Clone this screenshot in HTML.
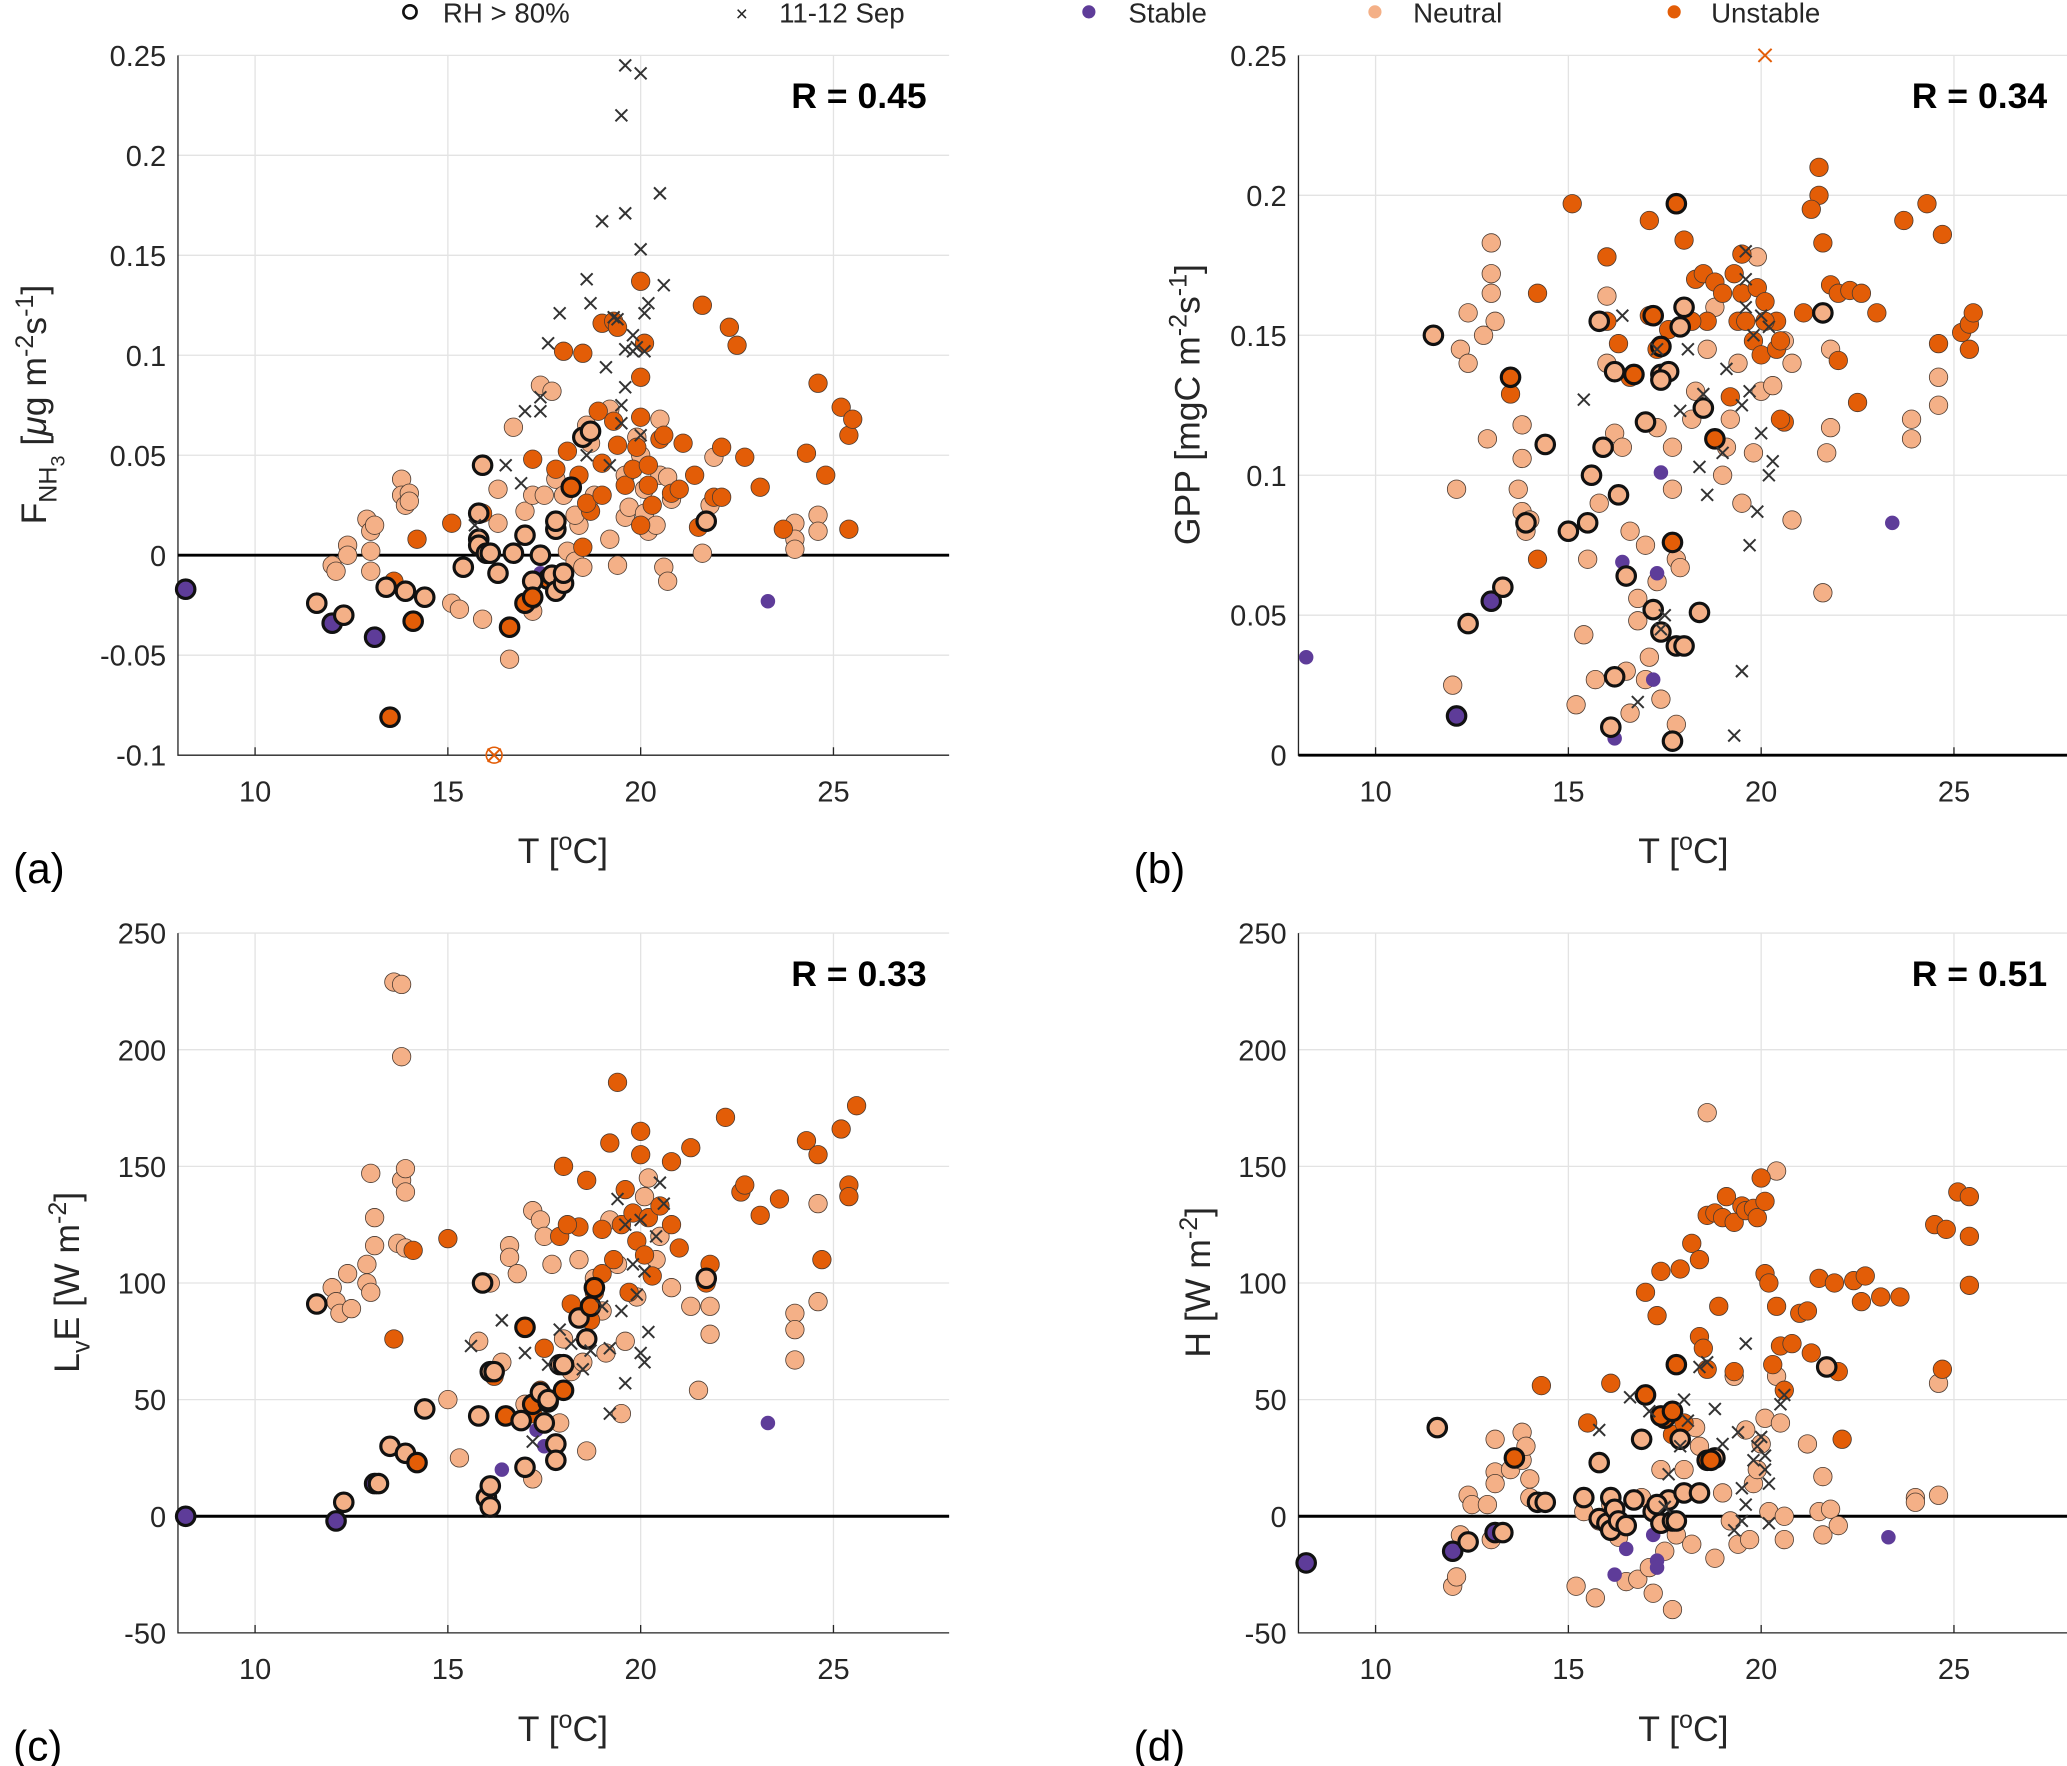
<!DOCTYPE html>
<html><head><meta charset="utf-8"><style>
html,body{margin:0;padding:0;background:#fff;}
svg{display:block;font-family:"Liberation Sans",Arial,sans-serif;}
</style></head><body>
<svg id="fig" width="2067" height="1766" viewBox="0 0 1568 1340" preserveAspectRatio="none" xmlns="http://www.w3.org/2000/svg">
<g font-size="21" fill="#262626">
 <circle cx="311" cy="9" r="5" fill="none" stroke="#111" stroke-width="2"/>
 <text x="336" y="17">RH &gt; 80%</text>
 <text x="558" y="16" font-size="16">×</text>
 <text x="591" y="17">11-12 Sep</text>
 <circle cx="826" cy="9" r="5" fill="#5e3c99"/>
 <text x="856" y="17">Stable</text>
 <circle cx="1043" cy="9" r="5" fill="#f4b087"/>
 <text x="1072" y="17">Neutral</text>
 <circle cx="1270" cy="9" r="5" fill="#e35d07"/>
 <text x="1298" y="17">Unstable</text>
</g>
</svg>
<script>
// ---------- Panel (a) F_NH3 ----------
const aStable=[[8.2,-0.017],[12,-0.034],[13.1,-0.041],[23.3,-0.023],[16.3,-0.008],[17.4,-0.009]];
const aNeutral=[[12,-0.005],[12.1,-0.008],[12.4,0.005],[12.4,0],[12.9,0.018],[13,0.012],[13.1,0.015],[13,0.002],[13,-0.008],[13.8,0.038],[13.8,0.03],[13.9,0.025],[14,0.031],[14,0.027],[15.1,-0.024],[15.3,-0.027],[15.9,-0.032],[16.3,0.033],[16.3,0.016],[16.6,-0.052],[16.7,0.064],[17,0.022],[17.2,0.03],[17.2,-0.028],[17.4,0.085],[17.7,0.082],[17.5,0.03],[17.8,0.038],[18,0.03],[18.1,0.002],[18.3,-0.003],[18.4,0.015],[18.6,0.065],[18.7,0.056],[18.8,0.03],[19.2,0.073],[19.2,0.008],[19.4,-0.005],[19.6,0.04],[19.6,0.019],[19.7,0.024],[19.9,0.059],[20,0.05],[20.1,0.033],[20.1,0.021],[20.2,0.012],[20.4,0.015],[20.5,0.068],[20.5,0.04],[20.7,0.039],[20.6,-0.006],[20.7,-0.013],[20.8,0.028],[21.6,0.001],[21.9,0.049],[21.8,0.025],[24,0.016],[24,0.008],[24,0.003],[24.6,0.02],[24.6,0.012],[18.3,0.02],[18.5,-0.006]];
const aUnstable=[[14.2,0.008],[13.6,-0.013],[15.1,0.016],[17.2,0.048],[17.8,0.043],[18.1,0.052],[18,0.102],[18.5,0.101],[18.5,0.004],[18.7,0.022],[18.9,0.072],[19,0.046],[19,0.116],[19.3,0.117],[19.4,0.114],[19.3,0.067],[19.4,0.055],[19.6,0.035],[19.8,0.043],[19.9,0.054],[20,0.137],[20,0.089],[20.1,0.106],[20,0.069],[20.2,0.045],[20.2,0.035],[20.3,0.025],[20,0.015],[20.5,0.058],[20.6,0.06],[20.8,0.031],[21.1,0.056],[21,0.033],[21.4,0.04],[21.5,0.014],[21.6,0.125],[21.9,0.029],[22.1,0.054],[22.1,0.029],[22.3,0.114],[22.5,0.105],[22.7,0.049],[23.1,0.034],[23.7,0.013],[24.3,0.051],[24.6,0.086],[24.8,0.04],[25.2,0.074],[25.4,0.06],[25.5,0.068],[25.4,0.013],[18.4,0.04],[18.6,0.026],[19,0.03],[17.8,-0.01],[17.2,-0.022],[15.9,0.021]];
const aRH=[[13.5,-0.081,2],[14.1,-0.033,2],[16.6,-0.036,2],[17,-0.024,2],[18.2,0.034,2],[17.6,-0.012,2],[8.2,-0.017,0],[12,-0.034,0],[13.1,-0.041,0],[11.6,-0.024,1],[12.3,-0.03,1],[13.4,-0.016,1],[13.9,-0.018,1],[14.4,-0.021,1],[15.4,-0.006,1],[15.9,0.045,1],[15.8,0.021,1],[15.8,0.008,1],[15.8,0.005,1],[16,0.001,1],[16.1,0.001,1],[16.3,-0.009,1],[16.7,0.001,1],[17,0.01,1],[17.4,0,1],[17.2,-0.013,1],[17.7,-0.01,1],[17.8,-0.018,1],[17.8,0.013,1],[17.8,0.017,1],[18,-0.014,1],[18,-0.009,1],[18.5,0.059,1],[18.7,0.062,1],[21.7,0.017,1],[17.2,-0.021,2]];
const aSep=[[19.6,0.245],[20,0.241],[19.5,0.22],[20.5,0.181],[19.6,0.171],[19,0.167],[20,0.153],[18.6,0.138],[20.6,0.135],[18.7,0.126],[20.2,0.126],[17.9,0.121],[20.1,0.121],[19.3,0.119],[19.4,0.118],[19.8,0.11],[19.9,0.104],[19.6,0.103],[19.8,0.102],[20.1,0.102],[17.6,0.106],[19.1,0.094],[19.6,0.084],[17.4,0.079],[17,0.072],[17.4,0.072],[19.5,0.075],[19.5,0.066],[18.6,0.05],[19.2,0.045],[16.5,0.045],[16.9,0.036],[15.7,0.015],[20,0.06]];
const aOutlier=[[16.2,-0.1]];
// ---------- Panel (b) GPP ----------
const bStable=[[8.2,0.035],[16.2,0.006],[17.3,0.065],[17.2,0.027],[16.4,0.069],[17.4,0.101],[23.4,0.083]];
const bNeutral=[[12,0.025],[12.1,0.095],[12.2,0.145],[12.4,0.158],[12.4,0.14],[12.8,0.15],[12.9,0.113],[13,0.183],[13,0.172],[13,0.165],[13.1,0.155],[13.7,0.095],[13.8,0.106],[13.8,0.118],[13.8,0.087],[13.9,0.08],[14,0.084],[15.2,0.018],[15.4,0.043],[15.5,0.07],[15.7,0.027],[15.8,0.09],[16,0.14],[16,0.164],[16.2,0.115],[16.4,0.11],[16.5,0.03],[16.6,0.015],[16.6,0.08],[16.8,0.048],[16.8,0.056],[17,0.027],[17,0.075],[17.1,0.035],[17.3,0.117],[17.3,0.062],[17.4,0.02],[17.7,0.095],[17.7,0.11],[17.8,0.011],[17.8,0.07],[17.9,0.067],[18.2,0.12],[18.3,0.13],[18.6,0.145],[18.8,0.16],[19,0.1],[19.1,0.11],[19.2,0.12],[19.4,0.14],[19.5,0.09],[19.8,0.108],[19.9,0.178],[20,0.13],[20.3,0.132],[20.6,0.148],[20.8,0.084],[21.6,0.058],[21.7,0.108],[21.8,0.117],[21.8,0.145],[23.9,0.12],[23.9,0.113],[24.6,0.135],[24.6,0.125],[20.8,0.14]];
const bUnstable=[[15.1,0.197],[16,0.178],[17.1,0.191],[18,0.184],[18.3,0.17],[18.5,0.172],[18.8,0.169],[19,0.165],[19.3,0.172],[19.5,0.179],[19.5,0.165],[19.9,0.167],[20.1,0.162],[20.4,0.155],[19.4,0.155],[19.6,0.155],[19.8,0.148],[20,0.143],[20.1,0.155],[20.4,0.145],[20.5,0.148],[20.6,0.119],[20.5,0.12],[18.6,0.155],[18.2,0.155],[17.6,0.152],[17.3,0.145],[17.1,0.157],[16.6,0.135],[16.3,0.147],[16,0.155],[14.2,0.165],[13.5,0.129],[14.2,0.07],[21.1,0.158],[21.5,0.21],[21.5,0.2],[21.6,0.183],[21.3,0.195],[21.8,0.168],[22,0.165],[22.3,0.166],[22.6,0.165],[23,0.158],[22,0.141],[22.5,0.126],[23.7,0.191],[24.3,0.197],[24.7,0.186],[24.6,0.147],[25.2,0.151],[25.4,0.154],[25.5,0.158],[25.4,0.145],[19.2,0.128]];
const bRH=[[12.1,0.014,0],[13,0.055,0],[11.5,0.15,1],[12.4,0.047,1],[13.3,0.06,1],[13.5,0.135,2],[13.9,0.083,1],[14.4,0.111,1],[15,0.08,1],[15.5,0.083,1],[15.6,0.1,1],[15.8,0.155,1],[15.9,0.11,1],[16.1,0.01,1],[16.2,0.028,1],[16.3,0.093,1],[16.2,0.137,1],[16.5,0.064,1],[16.7,0.136,2],[17,0.119,1],[17.2,0.052,1],[17.2,0.157,2],[17.4,0.044,1],[17.4,0.136,1],[17.6,0.137,1],[17.8,0.039,1],[17.9,0.153,1],[18,0.039,1],[18.4,0.051,1],[18.5,0.124,1],[18.8,0.113,2],[17.7,0.076,2],[17.4,0.134,1],[17.7,0.005,1],[21.6,0.158,1],[17.8,0.197,2],[18,0.16,1],[17.4,0.146,2]];
const bSep=[[15.4,0.127],[16.4,0.157],[16.8,0.019],[17.3,0.145],[17.4,0.045],[17.5,0.05],[17.9,0.123],[18.1,0.145],[18.4,0.103],[18.5,0.129],[18.6,0.093],[19,0.108],[19.1,0.138],[19.3,0.007],[19.5,0.03],[19.5,0.125],[19.6,0.16],[19.6,0.17],[19.7,0.075],[19.7,0.13],[19.8,0.15],[19.9,0.087],[20,0.115],[20.2,0.1],[20.3,0.105],[19.6,0.18],[20,0.157],[20.2,0.153]];
const bOutlier=[[20.1,0.25]];
// ---------- Panel (c) LvE ----------
const cStable=[[8.2,0],[12.1,-2],[23.3,40],[16.4,20],[17.3,37],[17.5,30],[13.1,14]];
const cNeutral=[[12,98],[12.1,92],[12.2,87],[12.4,104],[12.5,89],[12.9,108],[12.9,100],[13,96],[13,147],[13.1,116],[13.1,128],[13.6,229],[13.8,228],[13.8,197],[13.8,144],[13.9,149],[13.9,139],[13.7,117],[13.9,115],[15,50],[15.3,25],[15.8,75],[16.1,100],[16.4,66],[16.6,116],[16.6,111],[16.8,104],[17,48],[17.2,16],[17.2,131],[17.4,127],[17.5,120],[17.7,108],[17.9,40],[18,76],[18.2,62],[18.4,110],[18.6,28],[18.8,102],[19,88],[19.1,70],[19.2,127],[19.5,44],[19.6,75],[19.9,94],[20.1,137],[20.2,145],[20.4,110],[20.5,120],[20.8,98],[21.3,90],[21.5,54],[21.8,78],[21.8,90],[24,87],[24,80],[24,67],[24.6,134],[24.6,92],[18.5,66],[19.4,108]];
const cUnstable=[[13.6,76],[14.1,114],[15,119],[16.2,60],[17.2,44],[17.4,54],[17.5,72],[17.9,120],[18,150],[18.2,91],[18.4,124],[18.6,144],[18.8,96],[19,104],[19,123],[19.2,160],[19.3,110],[19.4,186],[19.5,125],[19.6,140],[19.8,130],[19.9,118],[20,165],[20,155],[20.1,112],[20.2,128],[20.3,103],[20.5,133],[20.8,125],[20.8,152],[21,115],[21.3,158],[21.7,100],[21.8,108],[22.2,171],[22.6,139],[22.7,142],[23.1,129],[23.6,136],[24.3,161],[24.6,155],[24.7,110],[25.2,166],[25.4,142],[25.4,137],[25.6,176],[18.1,125],[18.7,84],[19.7,96]];
const cRH=[[8.2,0,0],[12.1,-2,0],[13.1,14,0],[11.6,91,1],[12.3,6,1],[13.2,14,1],[13.5,30,1],[13.9,27,1],[14.2,23,2],[14.4,46,1],[15.8,43,1],[15.9,100,1],[16,8,1],[16.1,4,1],[16.1,13,1],[16.1,62,1],[16.2,62,1],[16.5,43,2],[16.9,41,1],[17,21,1],[17.2,48,2],[17.4,53,1],[17.5,40,1],[17.6,49,2],[17.6,50,1],[17.8,31,1],[17.8,24,1],[17.9,65,1],[18,65,1],[18.4,85,1],[18.6,76,1],[18.7,90,2],[21.7,102,1],[17,81,2],[18,54,2],[18.8,98,2]];
const cSep=[[15.6,73],[16.4,84],[17,70],[17.2,32],[17.6,65],[17.9,80],[18.2,74],[18.5,63],[18.7,71],[19,90],[19.2,72],[19.4,136],[19.5,88],[19.6,57],[19.6,125],[19.8,108],[19.9,95],[20,70],[20.1,105],[20.1,66],[20.2,79],[20.4,120],[20.5,143],[20.6,134],[19.2,44],[20,127]];
// ---------- Panel (d) H ----------
const dStable=[[8.2,-20],[12,-15],[16.2,-25],[16.5,-14],[17.2,-8],[17.3,-19],[17.3,-22],[23.3,-9],[13.1,-7]];
const dNeutral=[[12,-30],[12.1,-26],[12.2,-8],[12.4,9],[12.5,5],[12.9,5],[13,-10],[13.1,33],[13.1,19],[13.1,14],[13.5,20],[13.8,36],[13.8,24],[13.9,30],[14,16],[14,8],[15.2,-30],[15.4,2],[15.7,-35],[15.8,-2],[16.1,5],[16.3,-9],[16.5,-28],[16.8,-27],[16.9,8],[17.1,-22],[17.2,-33],[17.4,20],[17.5,-15],[17.7,-40],[17.8,-8],[18,20],[18.2,-12],[18.3,38],[18.4,30],[18.6,173],[18.8,-18],[19,10],[19.2,-2],[19.3,60],[19.4,-12],[19.7,-10],[19.8,14],[19.9,20],[20.1,42],[20.2,2],[20.4,148],[20.4,60],[20.5,40],[20.6,-10],[20.6,0],[21.2,31],[21.5,2],[21.6,17],[21.6,-8],[21.8,3],[22,-4],[24,8],[24,6],[24.6,57],[24.6,9],[19.6,37],[20,31]];
const dUnstable=[[14.3,56],[15.5,40],[16.1,57],[17,96],[17.3,86],[17.4,105],[17.7,35],[17.9,106],[18.2,117],[18.4,110],[18.4,77],[18.5,72],[18.6,63],[18.6,129],[18.8,130],[19,128],[19.1,137],[19.3,126],[19.5,133],[19.6,131],[19.8,132],[19.9,128],[20,145],[20.1,135],[20.1,104],[20.2,100],[20.3,65],[20.4,90],[20.5,73],[20.6,54],[20.8,74],[21,87],[21.2,88],[21.3,70],[21.5,102],[21.9,100],[22,62],[22.1,33],[22.4,101],[22.6,92],[22.7,103],[23.1,94],[23.6,94],[24.5,125],[24.8,123],[24.7,63],[25.1,139],[25.4,137],[25.4,120],[25.4,99],[18.9,90],[19.3,62],[18,40]];
const dRH=[[8.2,-20,0],[12,-15,0],[13.1,-7,0],[11.6,38,1],[12.4,-11,1],[13.3,-7,1],[13.6,25,2],[14.2,6,1],[14.4,6,1],[15.4,8,1],[15.8,23,1],[15.8,-1,1],[16,-3,1],[16.1,8,1],[16.1,-6,1],[16.2,3,1],[16.3,-2,1],[16.5,-4,1],[16.7,7,1],[16.9,33,1],[17,52,2],[17.2,2,1],[17.4,-3,1],[17.5,42,2],[17.6,7,1],[17.7,-2,1],[17.8,-2,1],[17.8,65,2],[17.9,33,1],[18,10,1],[18.4,10,1],[18.6,24,2],[18.8,25,1],[21.7,64,1],[17.4,43,2],[17.7,45,2],[17.3,5,1],[18.7,24,2]];
const dSep=[[15.8,37],[16.6,51],[17.1,45],[17.5,4],[17.6,18],[17.9,30],[18,50],[18.1,41],[18.4,64],[18.6,66],[18.8,46],[19,31],[19.3,-6],[19.4,36],[19.5,-2],[19.6,5],[19.6,74],[19.8,24],[19.9,30],[20,34],[20.1,20],[20.1,26],[20.2,14],[20.2,-3],[20.5,48],[20.6,52],[19.5,12]];
// ---------- Axis ticks / labels ----------
const xTicks=[10,15,20,25];
const aYTicks=[-0.1,-0.05,0,0.05,0.1,0.15,0.2,0.25];
const aYLabels=["-0.1","-0.05","0","0.05","0.1","0.15","0.2","0.25"];
const bYTicks=[0,0.05,0.1,0.15,0.2,0.25];
const bYLabels=["0","0.05","0.1","0.15","0.2","0.25"];
const cdYTicks=[-50,0,50,100,150,200,250];
const cdYLabels=["-50","0","50","100","150","200","250"];
const rValues=["R = 0.45","R = 0.34","R = 0.33","R = 0.51"];

const NS="http://www.w3.org/2000/svg";
const svg=document.getElementById('fig');
const COLORS=["#5e3c99","#f4b087","#e35d07"];
function mk(tag,attrs,parent){const e=document.createElementNS(NS,tag);for(const k in attrs)e.setAttribute(k,attrs[k]);(parent||svg).appendChild(e);return e;}

function panel(p){
  const g=mk('g',{});
  
  
  const X0=p.x0,X1=p.x0+585,Y0=p.yTop,Y1=p.yTop+531;
  const sx=t=>X0+(t-8)/20*(X1-X0);
  const sy=v=>Y1-(v-p.ymin)/(p.ymax-p.ymin)*(Y1-Y0);
  const W=Math.min(X1,1568);
  // grid
  xTicks.forEach(t=>{const l=mk('line',{x1:sx(t),x2:sx(t),y1:Y0,y2:Y1,stroke:'#e3e3e3','stroke-width':1},g);
    
    const tx=mk('text',{x:sx(t),y:Y1+35,'text-anchor':'middle','font-size':22,fill:'#262626'},g);tx.textContent=t;
    });
  p.yTicks.forEach((v,i)=>{const l=mk('line',{x1:X0,x2:W,y1:sy(v),y2:sy(v),stroke:'#e3e3e3','stroke-width':1},g);
    
    const tx=mk('text',{x:X0-9,y:sy(v)+8,'text-anchor':'end','font-size':22,fill:'#262626'},g);tx.textContent=p.yLabels[i];
    });
  // axes
  const ax=mk('path',{d:`M${X0},${Y0}V${Y1}H${W}`,fill:'none',stroke:'#262626','stroke-width':1},g);
  
  for(let t=8;t<=28;t++){mk('line',{x1:sx(t),x2:sx(t),y1:Y1,y2:Y1-(t%5==0?6:0),stroke:'#262626'},g);}
  const zl=mk('line',{x1:X0,x2:W,y1:sy(0),y2:sy(0),stroke:'#000','stroke-width':2.2},g);
  
  const R=7;
  const dot=(d,c,name)=>{const e=mk('circle',{cx:sx(d[0]),cy:sy(d[1]),r:R,fill:COLORS[c],stroke:'#4a3a30','stroke-width':0.6},g);
    };
  p.neutral.forEach(d=>dot(d,1,'neutral-point'));
  p.unstable.forEach(d=>dot(d,2,'unstable-point'));
  p.stable.forEach(d=>{const e=mk('circle',{cx:sx(d[0]),cy:sy(d[1]),r:5.5,fill:COLORS[0]},g);
    });
  p.rh.forEach(d=>{const e=mk('circle',{cx:sx(d[0]),cy:sy(d[1]),r:R,fill:COLORS[d[2]],stroke:'#111','stroke-width':2.4},g);
    });
  p.sep.forEach(d=>{const x=sx(d[0]),y=sy(d[1]),s=4.5;
    const e=mk('path',{d:`M${x-s},${y-s}L${x+s},${y+s}M${x-s},${y+s}L${x+s},${y-s}`,stroke:'#333','stroke-width':1.5},g);
    });
  (p.outlier||[]).forEach(d=>{const x=sx(d[0]),y=sy(d[1]),s=5;
    const e=mk('path',{d:`M${x-s},${y-s}L${x+s},${y+s}M${x-s},${y+s}L${x+s},${y-s}`,stroke:'#e35d07','stroke-width':1.5,fill:'none'},g);
    
    if(p.outlierRing){const c=mk('circle',{cx:x,cy:y,r:6,fill:'none',stroke:'#e35d07','stroke-width':1.2},g);
      }});
  const rt=mk('text',{x:X0+568,y:Y0+40,'text-anchor':'end','font-size':27,'font-weight':'bold',fill:'#000'},g);
  rt.textContent=p.r;
  const xl=mk('text',{x:X0+292,y:Y1+82,'text-anchor':'middle','font-size':27,fill:'#262626'},g);
  xl.innerHTML='T [<tspan dy="-10" font-size="19">o</tspan><tspan dy="10">C]</tspan>';
  
  const yl=mk('text',{transform:`translate(${p.ylx},${Y0+265}) rotate(-90)`,'text-anchor':'middle','font-size':27,fill:'#262626'},g);
  yl.innerHTML=p.ylab;
  const pl=mk('text',{x:X0-125,y:Y1+97,'font-size':32,fill:'#000'},g);
  pl.textContent=p.letter;
}
panel({name:'panel-a-fnh3',x0:135,yTop:42,ymin:-0.1,ymax:0.25,yTicks:aYTicks,yLabels:aYLabels,stable:aStable,neutral:aNeutral,unstable:aUnstable,rh:aRH,sep:aSep,outlier:aOutlier,outlierRing:true,r:rValues[0],letter:'(a)',ylx:35,
  ylab:'F<tspan dy="8" font-size="19">NH</tspan><tspan dy="6" font-size="15">3</tspan><tspan dy="-14">  [</tspan><tspan font-style="italic">μ</tspan>g m<tspan dy="-10" font-size="19">-2</tspan><tspan dy="10">s</tspan><tspan dy="-10" font-size="19">-1</tspan><tspan dy="10">]</tspan>'});
panel({name:'panel-b-gpp',x0:985,yTop:42,ymin:0,ymax:0.25,yTicks:bYTicks,yLabels:bYLabels,stable:bStable,neutral:bNeutral,unstable:bUnstable,rh:bRH,sep:bSep,outlier:bOutlier,r:rValues[1],letter:'(b)',ylx:910,
  ylab:'GPP [mgC m<tspan dy="-10" font-size="19">-2</tspan><tspan dy="10">s</tspan><tspan dy="-10" font-size="19">-1</tspan><tspan dy="10">]</tspan>'});
panel({name:'panel-c-lve',x0:135,yTop:708,ymin:-50,ymax:250,yTicks:cdYTicks,yLabels:cdYLabels,stable:cStable,neutral:cNeutral,unstable:cUnstable,rh:cRH,sep:cSep,r:rValues[2],letter:'(c)',ylx:60,
  ylab:'L<tspan dy="8" font-size="19">v</tspan><tspan dy="-8">E [W m</tspan><tspan dy="-10" font-size="19">-2</tspan><tspan dy="10">]</tspan>'});
panel({name:'panel-d-h',x0:985,yTop:708,ymin:-50,ymax:250,yTicks:cdYTicks,yLabels:cdYLabels,stable:dStable,neutral:dNeutral,unstable:dUnstable,rh:dRH,sep:dSep,r:rValues[3],letter:'(d)',ylx:918,
  ylab:'H [W m<tspan dy="-10" font-size="19">-2</tspan><tspan dy="10">]</tspan>'});
</script>
</body></html>
